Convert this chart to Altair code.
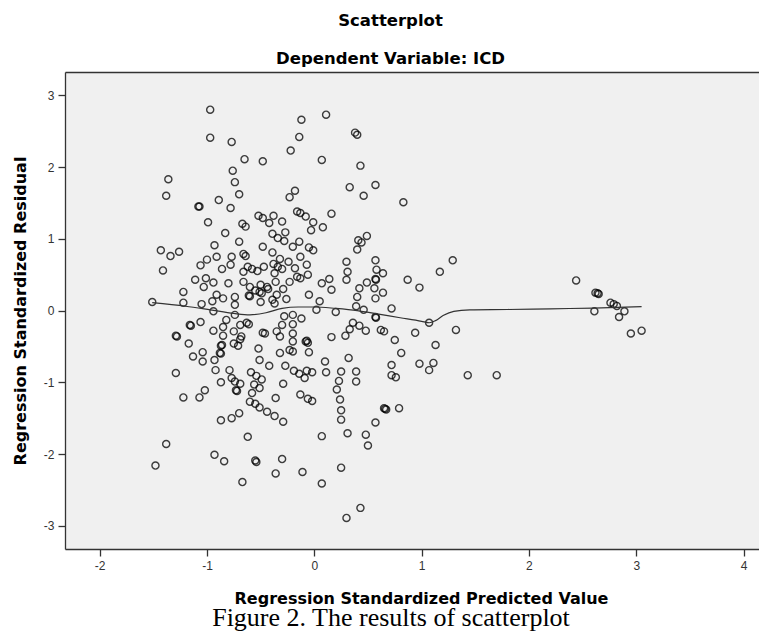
import altair as alt
import pandas as pd

# Regression standardized predicted values (x) and residuals (y)
pred = [
    -0.97, -0.97, -0.77, -0.22, -0.65, -0.48, -1.36, -1.38, -0.76, -0.74, -0.70, -1.08, -1.07, -0.89, -0.78,
    -0.23, -0.99, -0.67, -0.64, -0.83, -0.52, -0.48, -0.38, -0.42, -0.30, -0.39, -0.34, -0.27, -0.28, -0.70,
    -1.43, -1.34, -1.26, -1.41, -0.93, -0.91, -0.77, -0.66, -0.64, -0.48, -0.39, -0.20, -1.00, -1.06, -0.86,
    -0.78, -0.66, -0.62, -0.58, -0.53, -0.47, -0.38, -0.32, -0.34, -0.30, -0.24, -0.37, -1.11, -1.01, -1.03,
    -0.94, -0.80, -0.66, -0.60, -0.50, -0.44, -0.43, -0.55, -0.51, -0.36, -0.29, -0.23, -1.22, -1.22, -1.51,
    -1.05, -0.95, -0.91, -0.85, -0.74, -0.61, -0.60, -0.49, -0.50, -0.39, -0.35, -0.37, -0.26, -0.74,
    -0.12, 0.11, 0.38, 0.40, -0.14, 0.07, 0.43, 0.33, 0.57, 0.46, 0.83, -0.18, -0.16, -0.13, -0.08,
    -0.01, -0.03, 0.08, 0.16, -0.14, -0.05, -0.01, 0.49, 0.41, 0.44, 0.40, -0.13, -0.07, -0.18, -0.16,
    -0.13, -0.06, 0.30, 0.31, 0.30, 0.57, 0.58, 0.64, 0.57, 0.575, 0.49, 0.42, 0.14, 0.07, 0.16,
    0.56, 0.64, 0.57, 0.40, -0.05, 0.05, 0.87, 0.98, 1.17, 1.29,
    -0.94, -0.74, -0.82, -0.69, -0.63, -0.61, -1.16, -1.15, -1.06, -1.29, -1.28, -1.17, -0.94, -0.85, -0.85,
    -0.86, -0.87, -0.88, -0.87, -0.75, -0.68, -0.69, -0.75, -0.71, -0.52, -0.51, -0.48, -0.46, -0.35, -0.30,
    -0.28, -0.32, -0.32, -0.23, -1.13, -1.04, -1.04, -0.93, -0.92, -0.79, -0.77, -0.74, -0.73, -0.72, -0.87,
    -0.69, -1.29, -1.02, -1.07, -1.22, -0.59, -0.54, -0.49, -0.56, -0.51, -0.58, -0.60, -0.55, -0.51, -0.42,
    -0.27, -0.29, -0.36, -0.44, -0.37, -0.29, -0.70, -0.77, -0.87, -0.62, -1.38, -1.48, -0.93, -0.84, -0.55,
    -0.54, -0.30, -0.36, -0.67,
    -0.20, -0.12, -0.20, -0.20, -0.20, -0.20, -0.19, -0.14, -0.09, -0.07, -0.02, -0.13, -0.06, -0.02, -0.08,
    -0.07, -0.06, -0.05, 0.10, 0.11, 0.02, 0.20, 0.16, 0.29, 0.33, 0.36, 0.42, 0.48, 0.39, 0.46,
    0.72, 0.57, 0.575, 0.62, 0.65, 0.75, 0.81, 0.94, 1.07, 1.13, 1.32, 0.98, 1.07, 1.11, 1.43,
    1.70, 0.32, 0.25, 0.39, 0.23, 0.39, 0.21, 0.24, 0.25, 0.25, 0.57, 0.31, 0.48, 0.50, 0.72,
    0.72, 0.76, 0.65, 0.66, 0.67, 0.79, 0.07, -0.11, 0.07, 0.25, 0.43, 0.30,
    2.44, 2.62, 2.64, 2.65, 2.76, 2.79, 2.82, 2.89, 2.84, 2.61, 2.95, 3.05,
]
resid = [
    2.80, 2.41, 2.35, 2.23, 2.11, 2.08, 1.83, 1.60, 1.95, 1.79, 1.62, 1.45, 1.45, 1.54, 1.43,
    1.58, 1.23, 1.21, 1.17, 1.08, 1.32, 1.29, 1.32, 1.22, 1.24, 1.07, 1.01, 1.09, 0.97, 0.96,
    0.84, 0.76, 0.82, 0.56, 0.91, 0.75, 0.75, 0.79, 0.76, 0.89, 0.81, 0.89, 0.71, 0.63, 0.58,
    0.64, 0.54, 0.61, 0.58, 0.55, 0.61, 0.65, 0.72, 0.61, 0.58, 0.68, 0.52, 0.43, 0.45, 0.33,
    0.39, 0.38, 0.40, 0.33, 0.36, 0.33, 0.30, 0.28, 0.26, 0.40, 0.30, 0.40, 0.26, 0.11, 0.12,
    0.09, 0.13, 0.22, 0.17, 0.19, 0.21, 0.20, 0.24, 0.12, 0.15, 0.22, 0.10, 0.16, 0.08,
    2.66, 2.73, 2.48, 2.45, 2.42, 2.10, 2.02, 1.72, 1.75, 1.60, 1.51, 1.67, 1.38, 1.36, 1.31,
    1.23, 1.12, 1.16, 1.35, 0.96, 0.88, 0.84, 1.04, 0.98, 0.95, 0.85, 0.75, 0.64, 0.59, 0.47,
    0.45, 0.50, 0.68, 0.54, 0.43, 0.70, 0.57, 0.52, 0.44, 0.43, 0.39, 0.31, 0.44, 0.38, 0.29,
    0.31, 0.25, 0.17, 0.19, 0.22, 0.13, 0.43, 0.32, 0.54, 0.70,
    -0.01, -0.06, -0.13, -0.20, -0.17, -0.19, -0.20, -0.21, -0.16, -0.35, -0.36, -0.46, -0.28, -0.23, -0.35,
    -0.48, -0.49, -0.59, -0.60, -0.29, -0.36, -0.40, -0.46, -0.49, -0.53, -0.69, -0.31, -0.32, -0.29, -0.20,
    -0.08, -0.36, -0.59, -0.55, -0.64, -0.58, -0.71, -0.69, -0.83, -0.83, -0.94, -0.99, -1.11, -1.12, -1.00,
    -1.02, -0.87, -1.11, -1.21, -1.21, -0.86, -0.91, -0.96, -1.03, -1.08, -1.15, -1.27, -1.30, -1.35, -0.77,
    -0.77, -1.02, -1.22, -1.41, -1.47, -1.55, -1.43, -1.50, -1.53, -1.76, -1.86, -2.16, -2.01, -2.10, -2.09,
    -2.11, -2.07, -2.27, -2.39,
    -0.06, -0.11, -0.19, -0.32, -0.43, -0.57, -0.84, -0.88, -0.94, -0.84, -0.86, -1.17, -1.23, -1.26, -0.43,
    -0.42, -0.45, -0.58, -0.71, -0.86, 0.01, -0.02, -0.37, -0.35, -0.26, -0.17, -0.21, -0.28, 0.06, 0.01,
    0.03, -0.09, -0.10, -0.27, -0.29, -0.41, -0.59, -0.31, -0.17, -0.48, -0.27, -0.74, -0.83, -0.73, -0.90,
    -0.90, -0.66, -0.85, -0.85, -0.98, -0.99, -1.10, -1.24, -1.39, -1.52, -1.56, -1.71, -1.73, -1.88, -0.76,
    -0.90, -0.93, -1.36, -1.37, -1.38, -1.36, -1.75, -2.25, -2.41, -2.19, -2.75, -2.89,
    0.42, 0.25, 0.24, 0.23, 0.11, 0.09, 0.065, -0.01, -0.09, -0.01, -0.32, -0.28,
]

# Loess fit line
fit_x = [-1.51, -1.2, -0.97, -0.75, -0.6, -0.45, -0.3, -0.15, 0.0, 0.2, 0.4, 0.6, 0.8, 1.0,
         1.07, 1.13, 1.2, 1.3, 1.45, 1.8, 2.2, 2.6, 3.05]
fit_y = [0.11, 0.06, 0.01, -0.04, -0.06, -0.03, 0.03, 0.05, 0.05, 0.03, 0.0, -0.05, -0.1, -0.15,
         -0.17, -0.14, -0.07, -0.01, 0.01, 0.015, 0.025, 0.035, 0.055]

x_ticks = [-2, -1, 0, 1, 2, 3, 4]
y_ticks = [-3, -2, -1, 0, 1, 2, 3]

points = pd.DataFrame({"pred": pred, "resid": resid})
fit = pd.DataFrame({"x": fit_x, "y": fit_y})

xscale = alt.Scale(domain=[-2.323, 4.144], nice=False, zero=False)
yscale = alt.Scale(domain=[-3.323, 3.325], nice=False, zero=False)

axis_common = dict(
    domainColor="#333", domainWidth=1.3, tickColor="#333", tickWidth=1.3, tickSize=7,
    labelFont="Liberation Sans", labelFontSize=12, labelColor="#333", labelPadding=4,
    grid=False, titleFont="DejaVu Sans", titleFontSize=16, titleFontWeight="bold", titleColor="#000",
    labelExpr="'' + datum.value",
)

x_axis = alt.Axis(orient="bottom", values=x_ticks, title="Regression Standardized Predicted Value",
                  titleX=356, titleY=54, titleAlign="center", titleBaseline="alphabetic", **axis_common)
y_axis = alt.Axis(orient="left", values=y_ticks, title="Regression Standardized Residual",
                  titleX=-40, titleY=238.5, titleAngle=270, titleAlign="center", titleBaseline="alphabetic",
                  **axis_common)
top_axis = alt.Axis(orient="top", labels=False, ticks=False, grid=False, domain=True,
                    domainColor="#333", domainWidth=1.3,
                    title=["Scatterplot", "Dependent Variable: ICD"],
                    titleFont="DejaVu Sans", titleFontSize=16.5, titleFontWeight="bold", titleColor="#000",
                    titleLineHeight=38, titleX=325, titleY=-47, titleAlign="center", titleBaseline="alphabetic")

pts = alt.Chart(points).mark_point(
    shape="circle", filled=False, size=50, color="#000", strokeWidth=1.4, opacity=0.75
).encode(
    x=alt.X("pred:Q", scale=xscale, axis=x_axis),
    y=alt.Y("resid:Q", scale=yscale, axis=y_axis),
)

line = alt.Chart(fit).mark_line(color="#333", strokeWidth=1.2, interpolate="monotone").encode(
    x=alt.X("x:Q", scale=xscale, axis=top_axis),
    y=alt.Y("y:Q", scale=yscale, axis=y_axis),
)

chart = alt.layer(pts, line).resolve_axis(x="independent").properties(
    width=694,
    height=477,
    autosize=alt.AutoSizeParams(type="none"),
    padding={"left": 57, "top": 64, "right": 0, "bottom": 85},
    title=alt.TitleParams(
        text="Figure 2. The results of scatterplot", orient="bottom", anchor="middle", frame="group",
        font="Liberation Serif", fontSize=26, fontWeight="normal", color="#000", offset=-1, dx=-21,
    ),
).configure_view(fill="#f0f0f0", strokeWidth=0)

chart.save("out.html", embed_options={"renderer": "svg", "actions": False})
